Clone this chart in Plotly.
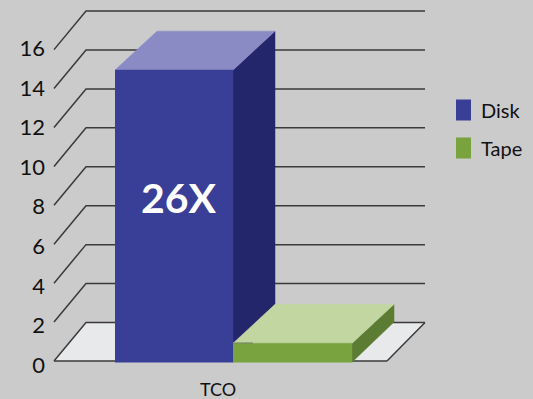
import plotly.graph_objects as go

# Data
categories = ["TCO"]
series_names = ["Disk", "Tape"]
series_values = [14.95, 0.91]
y_ticks = [0, 2, 4, 6, 8, 10, 12, 14, 16]
bar_label = "26X"

# Styles
BG = "#cbcbcb"
FONT = "Lato, Open Sans, sans-serif"
INK = "#111111"
GRID = "#3a3a3a"
FLOOR = "#e8e9eb"
FRONT = ["#393e96", "#78a33e"]
SIDE = ["#23266b", "#5c7b33"]
TOP = ["#8a8bc4", "#c2d6a1"]

# Layout of the pseudo-3D scene (x axis in window pixels, y axis in chart values)
W, H, BOTTOM = 533, 399, 22
ZERO_PX, PER_UNIT = 361.0, 19.46
y_range = [(ZERO_PX - (H - BOTTOM)) / PER_UNIT, ZERO_PX / PER_UNIT]
LABEL_ZERO_PX, LABEL_PER_UNIT = 365.0, 19.8
label_range = [(LABEL_ZERO_PX - (H - BOTTOM)) / LABEL_PER_UNIT, LABEL_ZERO_PX / LABEL_PER_UNIT]
WALL_L, WALL_BACK_L, WALL_R, FLOOR_R = 54, 86, 425, 387
WALL_DY = 1.98
BAR_X = [(115, 233), (233, 352)]
BAR_DX, BAR_DY = 42, 2.0
BAR_BASE = -0.06

fig = go.Figure()


def poly(xs, ys, color):
    fig.add_trace(go.Scatter(x=xs, y=ys, mode="lines", fill="toself", fillcolor=color,
                             line=dict(color=color, width=0.5), hoverinfo="skip", showlegend=False))


def line(xs, ys, color=GRID, width=1.5):
    fig.add_trace(go.Scatter(x=xs, y=ys, mode="lines", line=dict(color=color, width=width),
                             hoverinfo="skip", showlegend=False))


# Floor
poly([WALL_L, WALL_BACK_L, WALL_R, FLOOR_R], [0, WALL_DY, WALL_DY, 0], FLOOR)
line([FLOOR_R, WALL_L], [0, 0])
line([FLOOR_R, WALL_R], [0, WALL_DY])

# Gridlines
for t in y_ticks:
    line([WALL_L, WALL_BACK_L, WALL_R], [t, t + WALL_DY, t + WALL_DY])

# Bars: side, top, then front face of each series
for i, (name, v) in enumerate(zip(series_names, series_values)):
    x0, x1 = BAR_X[i]
    poly([x1, x1 + BAR_DX, x1 + BAR_DX, x1], [BAR_BASE, BAR_DY, v + BAR_DY, v], SIDE[i])
    poly([x0, x0 + BAR_DX, x1 + BAR_DX, x1], [v, v + BAR_DY, v + BAR_DY, v], TOP[i])
    poly([x0, x1, x1, x0], [BAR_BASE, BAR_BASE, v, v], FRONT[i])

# Small grey remnant at the left of the tape top
line([BAR_X[1][0], BAR_X[1][0] + 20], [series_values[1] + 0.03] * 2, "#8c9a80", 1)

# Dummy trace binding the label axis
fig.add_trace(go.Scatter(x=[None], y=[None], yaxis="y2", showlegend=False, hoverinfo="skip"))

annotations = [
    dict(x=179, y=8.4, text=f"<b>{bar_label}</b>", showarrow=False, xref="x", yref="y",
         font=dict(family=FONT, size=41, color="#ffffff")),
]
shapes = []
legend_y = [110, 148]
for name, color, py in zip(series_names, FRONT, legend_y):
    shapes.append(dict(type="rect", xref="paper", yref="paper",
                       x0=456 / W, x1=471 / W,
                       y0=1 - (py + 10.5) / (H - BOTTOM), y1=1 - (py - 10.5) / (H - BOTTOM),
                       fillcolor=color, line=dict(width=0), layer="above"))
    annotations.append(dict(xref="paper", yref="paper", x=481 / W, y=1 - py / (H - BOTTOM),
                            text=name, showarrow=False, xanchor="left", yanchor="middle",
                            xshift=-2, font=dict(family=FONT, size=20, color=INK)))

fig.update_layout(
    width=W, height=H, autosize=False,
    margin=dict(l=0, r=0, t=0, b=BOTTOM, pad=0),
    paper_bgcolor=BG, plot_bgcolor=BG,
    showlegend=False,
    xaxis=dict(range=[0, W], showgrid=False, zeroline=False, showline=False, ticks="",
               tickmode="array", tickvals=[218], ticktext=categories, ticklen=0,
               tickfont=dict(family=FONT, size=18, color=INK), automargin=False, fixedrange=True),
    yaxis=dict(range=y_range, visible=False, fixedrange=True),
    yaxis2=dict(range=label_range, overlaying="y", anchor="free", position=45 / W, side="left",
                showgrid=False, zeroline=False, showline=False, ticks="",
                tickmode="array", tickvals=y_ticks, ticktext=[str(t) for t in y_ticks],
                tickfont=dict(family=FONT, size=22, color=INK), automargin=False, fixedrange=True),
    annotations=annotations, shapes=shapes,
)

fig.write_html("out.html", config=dict(displayModeBar=False),
               post_script="document.body.style.margin='0';document.body.style.overflow='hidden';")
